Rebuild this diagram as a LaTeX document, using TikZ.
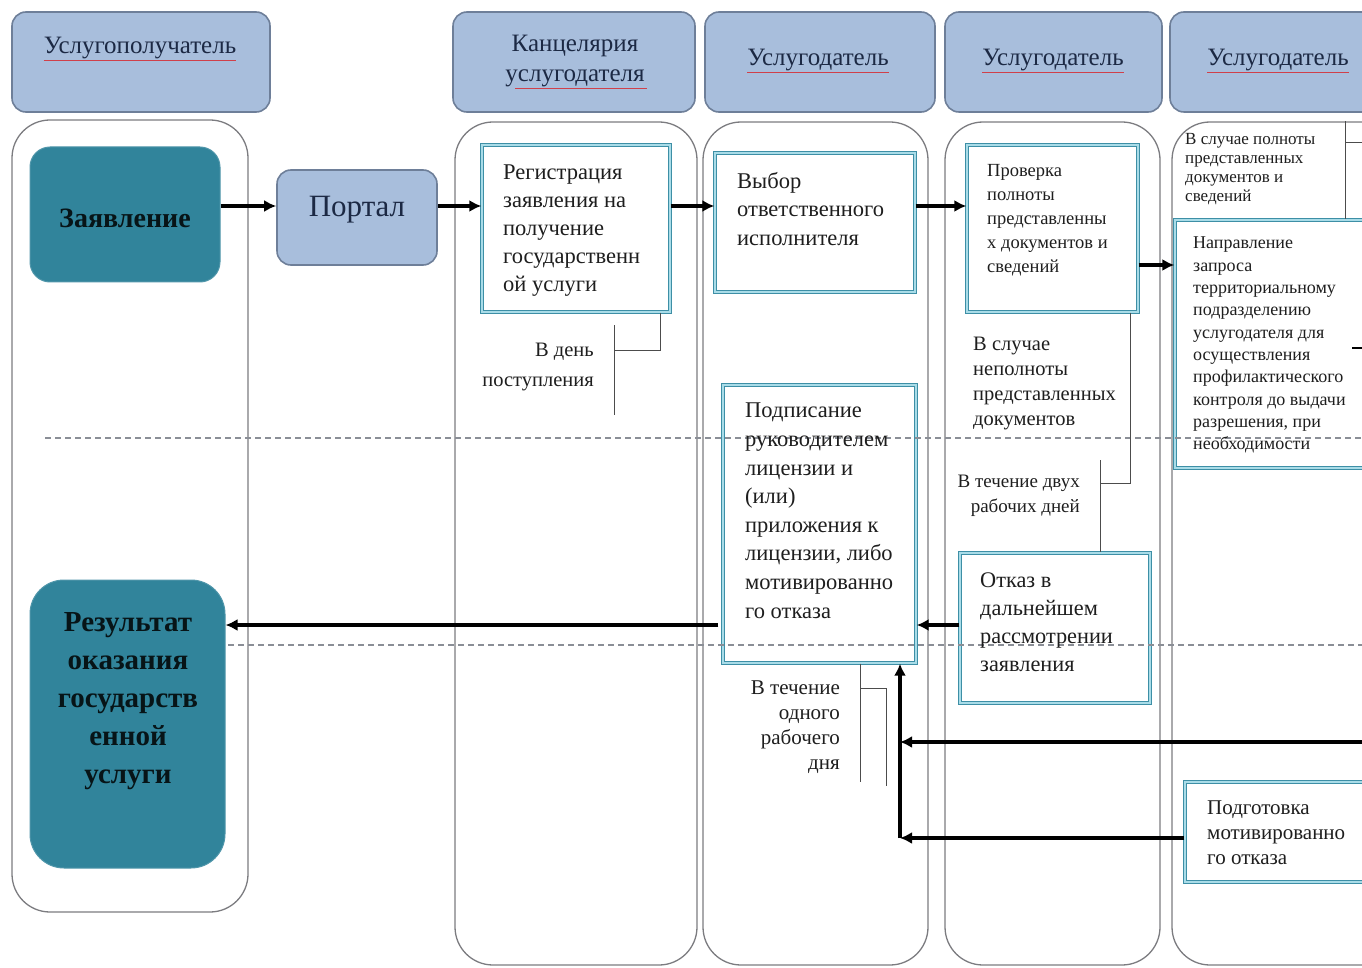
\documentclass[tikz,border=0pt]{standalone}
\usepackage{fontspec}
\setmainfont{Liberation Serif}
\usetikzlibrary{arrows.meta}
\definecolor{hdrfill}{HTML}{A8BEDC}
\definecolor{hdrdraw}{HTML}{6E7F99}
\definecolor{tealfill}{HTML}{31849B}
\definecolor{boxdark}{HTML}{3E8FA6}
\definecolor{boxlight}{HTML}{A9DCE8}
\definecolor{lanedraw}{HTML}{7C7C80}
\definecolor{txt}{HTML}{1E1E1E}
\definecolor{hdrtxt}{HTML}{1C2944}
\definecolor{dashc}{HTML}{8A8E96}
\definecolor{spell}{HTML}{D0404A}
\newcommand{\fsz}[2]{\fontsize{#1}{#2}\selectfont}
\begin{document}
\begin{tikzpicture}[x=1pt,y=-1pt,
  lane/.style={draw=lanedraw,line width=1.3pt,rounded corners=38pt,fill=white,inner sep=0pt},
  hdr/.style={draw=hdrdraw,line width=1.6pt,fill=hdrfill,rounded corners=14pt,inner sep=0pt},
  proc/.style={draw=boxdark,double=boxlight,double distance=1.4pt,line width=1.3pt,fill=white,inner sep=0pt},
  term/.style={fill=tealfill,draw=tealfill!85!white,line width=1pt,inner sep=0pt},
  arr/.style={line width=3.4pt,-{Latex[length=12pt,width=12pt]}},
  brk/.style={line width=1pt,draw=black!70},
  dl/.style={draw=dashc,line width=1.2pt,dash pattern=on 6pt off 4pt},
  htxt/.style={text=hdrtxt,inner sep=0pt,align=center,font=\fsz{25}{30}},
  btxt/.style={text=txt,inner sep=0pt,anchor=north west,align=left},
  sp/.style={draw=spell,line width=0.9pt}
]
\useasboundingbox (0,0) rectangle (1362,968);
\clip (0,0) rectangle (1362,968);

% lanes
\node[lane,minimum width=236pt,minimum height=792pt] (L1) at (130,516) {};
\node[lane,minimum width=242pt,minimum height=843pt] (L2) at (576,543.5) {};
\node[lane,minimum width=225pt,minimum height=843pt] (L3) at (815.5,543.5) {};
\node[lane,minimum width=215pt,minimum height=843pt] (L4) at (1052.5,543.5) {};
\node[lane,minimum width=248pt,minimum height=843pt] (L5) at (1296,543.5) {};

% headers
\node[hdr,minimum width=258pt,minimum height=100pt] (H1) at (141,62) {};
\node[hdr,minimum width=242pt,minimum height=100pt] (H2) at (574,62) {};
\node[hdr,minimum width=230pt,minimum height=100pt] (H3) at (820,62) {};
\node[hdr,minimum width=217pt,minimum height=100pt] (H4) at (1053.5,62) {};
\node[hdr,minimum width=220pt,minimum height=100pt] (H5) at (1280,62) {};
\node[htxt] (h1t) at (140,48) {Услугополучатель};
\node[htxt] (h2t) at (575,61) {Канцелярия\\услугодателя};
\node[htxt] (h3t) at (818,60) {Услугодатель};
\node[htxt] (h4t) at (1053,60) {Услугодатель};
\node[htxt] (h5t) at (1278,60) {Услугодатель};
\draw[sp] ([yshift=-1pt]h1t.south west) -- ([yshift=-1pt]h1t.south east);
\draw[sp] ([xshift=-60pt,yshift=-1pt]h2t.south) -- ([xshift=72pt,yshift=-1pt]h2t.south);
\draw[sp] ([yshift=-1pt]h3t.south west) -- ([yshift=-1pt]h3t.south east);
\draw[sp] ([yshift=-1pt]h4t.south west) -- ([yshift=-1pt]h4t.south east);
\draw[sp] ([yshift=-1pt]h5t.south west) -- ([yshift=-1pt]h5t.south east);

% boxes
\node[term,rounded corners=20pt,minimum width=190pt,minimum height=135pt] (zay) at (125,214.5) {};
\node[hdr,rounded corners=14pt,minimum width=160pt,minimum height=95pt] (port) at (357,217.5) {};
\node[proc,minimum width=188pt,minimum height=167pt] (reg) at (576,228.5) {};
\node[proc,minimum width=200pt,minimum height=139pt] (vyb) at (815,222.5) {};
\node[proc,minimum width=171pt,minimum height=167pt] (prov) at (1052.5,228.5) {};
\node[proc,minimum width=225pt,minimum height=248pt] (napr) at (1287.5,344) {};
\node[proc,minimum width=193pt,minimum height=278pt] (podp) at (819.5,524) {};
\node[proc,minimum width=190pt,minimum height=150pt] (otk) at (1055,628) {};
\node[term,rounded corners=34pt,minimum width=195pt,minimum height=288pt] (rez) at (127.5,724) {};
\node[proc,minimum width=215pt,minimum height=100pt] (podg) at (1292.5,832) {};

% dashed phase lines
\draw[dl] (45,438) -- (1362,438);
\draw[dl] (228,645) -- (1362,645);

% texts
\node[inner sep=0pt,text=black!85!tealfill,font=\bfseries\fsz{28}{32}] (zayt) at (125,218) {Заявление};
\node[inner sep=0pt,text=hdrtxt,font=\fsz{31}{34}] (portt) at (357,210) {Портал};
\node[btxt,font=\fsz{22.5}{28}] (regt) at (503,165) {Регистрация\\заявления на\\получение\\государственн\\ой услуги};
\node[btxt,font=\fsz{22.5}{28.5}] (vybt) at (737,172) {Выбор\\ответственного\\исполнителя};
\node[btxt,font=\fsz{18.5}{24}] (provt) at (987,164.5) {Проверка\\полноты\\представленны\\х документов и\\сведений};
\node[btxt,font=\fsz{20.5}{25}] (nept) at (973,336.5) {В случае\\неполноты\\представленных\\документов};
\node[btxt,anchor=north east,align=right,font=\fsz{19}{25}] (dvuht) at (1080,475) {В течение двух\\рабочих дней};
\node[btxt,font=\fsz{22.5}{28.6}] (podpt) at (745,403) {Подписание\\руководителем\\лицензии и\\(или)\\приложения к\\лицензии, либо\\мотивированно\\го отказа};
\node[btxt,font=\fsz{22.3}{28}] (otkt) at (980,573) {Отказ в\\дальнейшем\\рассмотрении\\заявления};
\node[btxt,anchor=north east,align=right,font=\fsz{21}{25}] (odnt) at (840,681) {В течение\\одного\\рабочего\\дня};
\node[btxt,font=\fsz{21}{25}] (podgt) at (1207,800.5) {Подготовка\\мотивированно\\го отказа};
\node[btxt,font=\fsz{18}{22.3}] (naprt) at (1193,237) {Направление\\запроса\\территориальному\\подразделению\\услугодателя для\\осуществления\\профилактического\\контроля до выдачи\\разрешения, при\\необходимости};
\node[btxt,font=\fsz{17}{19}] (polnt) at (1185,133) {В случае полноты\\представленных\\документов и\\сведений};
\node[btxt,anchor=north,align=center,text=black!85!tealfill,font=\bfseries\fsz{29}{38}] (rezt) at (128,612) {Результат\\оказания\\государств\\енной\\услуги};
\node[btxt,anchor=north east,align=right,font=\fsz{20.5}{30}] (dent) at (594,342.5) {В день\\поступления};

% connectors
\draw[arr] (zay.east |- 0,206) -- (port.west |- 0,206);
\draw[arr] (port.east |- 0,206) -- (reg.west |- 0,206);
\draw[arr] (reg.east |- 0,206) -- (vyb.west |- 0,206);
\draw[arr] (vyb.east |- 0,206) -- (prov.west |- 0,206);
\draw[arr] (prov.east |- 0,265) -- (napr.west |- 0,265);
\draw[arr] (otk.west |- 0,625) -- (podp.east |- 0,625);
\draw[arr] ([xshift=-4pt]podp.west |- 0,625) -- (rez.east |- 0,625);
\coordinate (j1) at (900,838);
\coordinate (rin) at (1380,742);
\draw[arr] (podg.west |- j1) -- (j1);
\draw[arr] (j1) -- (podp.south -| j1);
\draw[arr] (rin) -- (j1 |- rin);
\coordinate (rline) at (1380,348);
\draw[line width=2.4pt] (rline) -- (1352,348);

% brackets
\draw[brk] (reg.south -| 660,0) -- (660,350) -- (614,350);
\draw[brk] (614,325) -- (614,415);
\draw[brk] (prov.south -| 1130,0) -- (1130,483) -- (1100,483);
\draw[brk] (1100,460) -- (otk.north -| 1100,0);
\draw[brk] (podp.south -| 860,0) -- (860,782);
\draw[brk] (860,688) -- (886,688) -- (886,786);
\draw[brk] (L5.north -| 1345,0) -- (napr.north -| 1345,0);
\draw[brk] (1345,143) -- (1362,143);
\end{tikzpicture}
\end{document}
